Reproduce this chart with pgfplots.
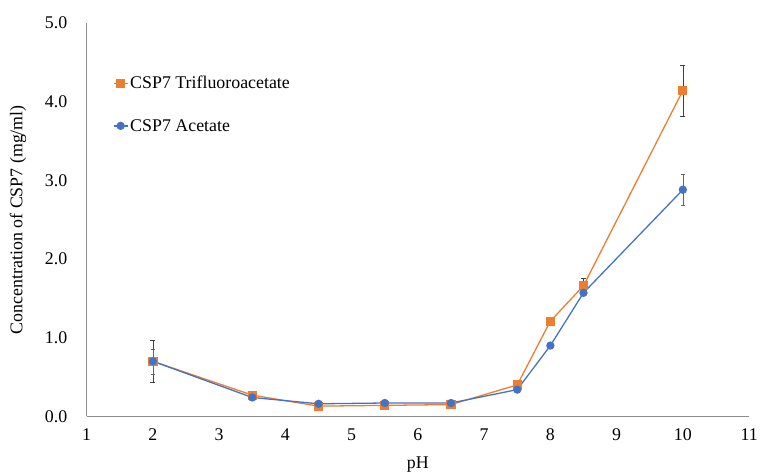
\documentclass[border=0pt]{standalone}
\usepackage{fontspec}
\setmainfont{Liberation Serif}
\usepackage{pgfplots}
\pgfplotsset{compat=1.18}
\definecolor{exorange}{HTML}{ED7D31}
\definecolor{exblue}{HTML}{4472C4}
\begin{document}
\begin{tikzpicture}
\begin{axis}[
  scale only axis,
  width=665bp, height=395bp,
  xmin=1, xmax=11, ymin=0, ymax=5,
  axis x line=bottom, axis y line=left,
  axis line style={-, draw=black!45, line width=0.8pt},
  xtick={1,2,...,11}, ytick={0,1,...,5},
  major tick length=0pt,
  /pgf/number format/assume math mode=true,
  yticklabel style={/pgf/number format/fixed, /pgf/number format/fixed zerofill, /pgf/number format/precision=1,
    font=\fontsize{18}{21}\selectfont, xshift=-16bp},
  xticklabel style={font=\fontsize{18}{21}\selectfont, yshift=-9bp},
  xlabel={pH}, ylabel={Concentration of CSP7 (mg/ml)},
  xlabel style={font=\fontsize{18}{21}\selectfont, yshift=-9bp},
  ylabel style={font=\fontsize{18}{21}\selectfont, yshift=12bp},
  legend style={draw=none, fill=none, at={(0.035,0.875)}, anchor=north west,
    font=\fontsize{18}{21}\selectfont, row sep=25bp},
  legend cell align=left,
  legend image code/.code={\draw[mark repeat=2,mark phase=2] plot coordinates {(0bp,0bp)(7bp,0bp)(14bp,0bp)};},
]
\addplot[color=exorange, line width=1.3pt, mark=square*, mark size=4bp,
  error bars/.cd, y dir=both, y explicit,
  error bar style={black!75, line width=0.7pt}, error mark options={rotate=90, mark size=2.5bp, black!75}]
  coordinates {
  (2,0.70) +- (0,0.27)
  (3.5,0.27) +- (0,0)
  (4.5,0.13) +- (0,0)
  (5.5,0.14) +- (0,0)
  (6.5,0.15) +- (0,0)
  (7.5,0.40) +- (0,0)
  (8,1.21) +- (0,0)
  (8.5,1.66) +- (0,0.09)
  (10,4.14) +- (0,0.32)
  };
\addlegendentry{CSP7 Trifluoroacetate}
\addplot[color=exblue, line width=1.3pt, mark=*, mark size=3.5bp,
  error bars/.cd, y dir=both, y explicit,
  error bar style={black!60, line width=0.5pt}, error mark options={rotate=90, mark size=2bp, black!60}]
  coordinates {
  (2,0.70) +- (0,0.16)
  (3.5,0.24) +- (0,0)
  (4.5,0.16) +- (0,0)
  (5.5,0.17) +- (0,0)
  (6.5,0.17) +- (0,0)
  (7.5,0.34) +- (0,0)
  (8,0.90) +- (0,0)
  (8.5,1.57) +- (0,0)
  (10,2.88) +- (0,0.20)
  };
\addlegendentry{CSP7 Acetate}
\end{axis}
\path ([yshift=23bp]current axis.north west);
\path ([xshift=-87bp]current axis.south west);
\end{tikzpicture}
\end{document}
